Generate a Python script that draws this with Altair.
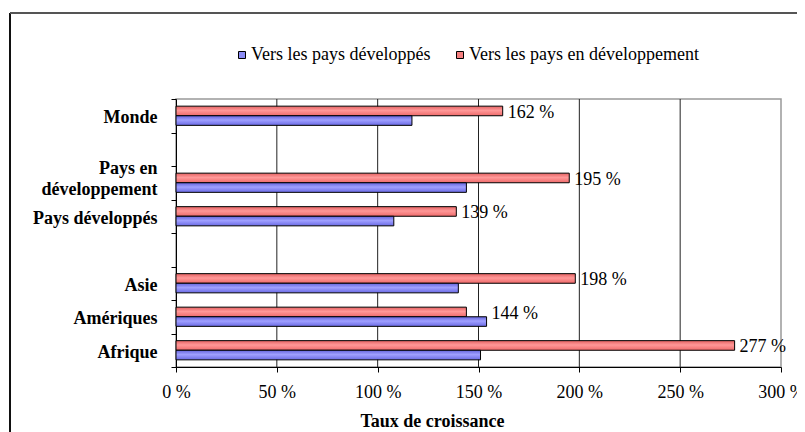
import altair as alt
import pandas as pd

# ---- data ----
categories = ["Monde", "_gap1", "Pays en développement", "Pays développés",
              "_gap2", "Asie", "Amériques", "Afrique"]
regions = ["Monde", "Pays en développement", "Pays développés",
           "Asie", "Amériques", "Afrique"]
vers_developpes = [117, 144, 108, 140, 154, 151]          # blue
vers_en_developpement = [162, 195, 139, 198, 144, 277]    # red
series_names = ["Vers les pays développés", "Vers les pays en développement"]
x_ticks = [0, 50, 100, 150, 200, 250, 300]
grid_values = [50, 100, 150, 200, 250]

rows = []
for r, b, d in zip(regions, vers_developpes, vers_en_developpement):
    rows.append({"cat": r, "serie": series_names[1], "valeur": d})
    rows.append({"cat": r, "serie": series_names[0], "valeur": b})
df = pd.DataFrame(rows)
grid_df = pd.DataFrame({"valeur": grid_values})

FONT = "Liberation Serif"

xscale = alt.Scale(domain=[0, 300], nice=False, zero=True)
xaxis = alt.Axis(values=x_ticks, labelExpr="datum.value + ' %'", grid=False,
                 labelFlush=False, labelOverlap=False,
                 domainColor="black", tickColor="black", tickSize=5,
                 labelFont=FONT, labelFontSize=18, labelColor="black",
                 labelPadding=25, labelBaseline="alphabetic",
                 title="Taux de croissance", titleFont=FONT, titleFontSize=18,
                 titleFontWeight="bold", titleColor="black",
                 titleX=256, titleY=59, titleAlign="center",
                 titleBaseline="alphabetic")
X = alt.X("valeur:Q", scale=xscale, axis=xaxis)

yscale = alt.Scale(domain=categories, paddingInner=0, paddingOuter=0)
yaxis = alt.Axis(tickBand="extent", domainColor="black", tickColor="black",
                 tickSize=5, labelFont=FONT, labelFontSize=18,
                 labelFontWeight="bold", labelColor="black", labelPadding=14,
                 labelLimit=300, labelLineHeight=21,
                 labelOffset={"condition": {"test": "datum.value == 'Pays en développement'",
                                            "value": -14},
                              "value": 2},
                 labelExpr="indexof(datum.label, '_') == 0 ? '' : "
                           "(datum.label == 'Pays en développement' ? "
                           "['Pays en', 'développement'] : datum.label)",
                 title=None)
Y = alt.Y("cat:N", scale=yscale, axis=yaxis)

yoff = alt.YOffset("serie:N",
                   scale=alt.Scale(domain=[series_names[1], series_names[0]],
                                   paddingInner=0, paddingOuter=0.745))

red_grad = alt.Gradient(gradient="linear", x1=0, x2=0, y1=0, y2=1, stops=[
    alt.GradientStop(color="#e46262", offset=0),
    alt.GradientStop(color="#ff9898", offset=0.45),
    alt.GradientStop(color="#ee6a6a", offset=1)])
blue_grad = alt.Gradient(gradient="linear", x1=0, x2=0, y1=0, y2=1, stops=[
    alt.GradientStop(color="#6464dd", offset=0),
    alt.GradientStop(color="#a0a0ff", offset=0.45),
    alt.GradientStop(color="#6a6ae4", offset=1)])

base = alt.Chart(df)

grid = alt.Chart(grid_df).mark_rule(color="#222222", strokeWidth=1).encode(x=X)

bars_red = base.transform_filter(
    alt.datum.serie == series_names[1]
).mark_bar(fill=red_grad, stroke="black", strokeWidth=1).encode(
    x=X, y=Y, yOffset=yoff)

bars_blue = base.transform_filter(
    alt.datum.serie == series_names[0]
).mark_bar(fill=blue_grad, stroke="black", strokeWidth=1).encode(
    x=X, y=Y, yOffset=yoff)

labels = base.transform_joinaggregate(
    vmax="max(valeur)", groupby=["cat"]
).transform_filter(
    alt.datum.serie == series_names[1]
).transform_calculate(
    lab="datum.valeur + ' %'"
).mark_text(align="left", baseline="middle", dx=5, dy=2, font=FONT,
            fontSize=18, color="black").encode(
    x=alt.X("vmax:Q", scale=xscale, axis=xaxis), y=Y, yOffset=yoff,
    text="lab:N")

legend_layer = base.mark_point(opacity=0, filled=True).encode(
    x=X, y=Y,
    fill=alt.Fill("serie:N",
                  scale=alt.Scale(domain=series_names,
                                  range=["#8c8cf5", "#f57f7f"]),
                  legend=alt.Legend(orient="none", legendX=57, legendY=-53,
                                    direction="horizontal", title=None,
                                    symbolType="square", symbolSize=49,
                                    symbolStrokeColor="black",
                                    symbolStrokeWidth=1, symbolOpacity=1,
                                    labelFont=FONT, labelFontSize=18,
                                    labelColor="black", labelOffset=0,
                                    labelLimit=400, columnPadding=20)))

frame_df = pd.DataFrame({"k": [0]})
frame_left = alt.Chart(frame_df).mark_rule(color="#111111", strokeWidth=2).encode(
    x=alt.value(-166), y=alt.value(-86), y2=alt.value(340))
frame_top = alt.Chart(frame_df).mark_rule(color="#555555", strokeWidth=2).encode(
    x=alt.value(-166), x2=alt.value(800), y=alt.value(-86))

chart = alt.layer(
    grid, bars_red, bars_blue, labels, legend_layer, frame_left, frame_top
).properties(
    width=605, height=268, autosize="none",
    padding={"left": 168, "top": 91, "right": 16, "bottom": 65},
    background="white"
).configure_view(stroke="#999999", strokeWidth=1.5)

chart.save("out.html", embed_options={"renderer": "svg", "actions": False})
